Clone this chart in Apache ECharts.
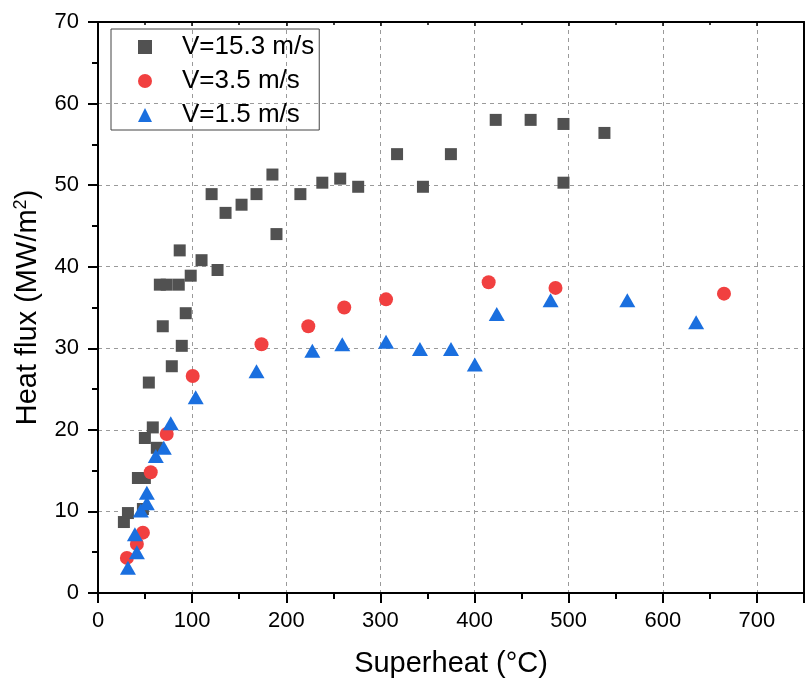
<!DOCTYPE html>
<html>
<head>
<meta charset="utf-8">
<script src="https://cdn.jsdelivr.net/npm/echarts@6/dist/echarts.min.js"></script>
<style>
html,body{margin:0;padding:0;background:#fff;}
#chart{width:807px;height:684px;}
</style>
</head>
<body>
<div id="chart"></div>
<script>
// Series values
const seriesNames = ['V=15.3 m/s', 'V=3.5 m/s', 'V=1.5 m/s'];

const v153X = [27.5, 31.8, 47.7, 42.4, 49.8, 49.8, 58.2, 62.5, 54, 78.4, 89, 68.8, 93.2, 65.7, 73, 85.8, 98.5, 86.8, 110, 127, 120.7, 135.5, 152.5, 168.4, 185.3, 189.6, 215, 238.3, 257.3, 276.4, 317.7, 345.2, 374.9, 422.5, 459.6, 494.5, 494.5, 538];
const v153Y = [8.7, 9.8, 10.3, 14.1, 14.1, 19.0, 20.3, 17.8, 25.8, 27.8, 30.3, 32.7, 34.3, 37.8, 37.8, 37.8, 38.9, 42.0, 40.8, 39.6, 48.9, 46.6, 47.6, 48.9, 51.3, 44.0, 48.9, 50.3, 50.8, 49.8, 53.8, 49.8, 53.8, 58.0, 58.0, 57.5, 50.3, 56.4];

const v35X = [30.7, 41.3, 47.7, 56, 73, 100.6, 173.7, 223.4, 261.6, 306, 415, 486, 665];
const v35Y = [4.3, 6.0, 7.4, 14.8, 19.5, 26.6, 30.5, 32.7, 35.0, 36.0, 38.1, 37.4, 36.7];

const v15X = [31.8, 41.3, 39.2, 45.5, 51.9, 51.9, 61.4, 69.9, 77.3, 103.8, 168.4, 227.7, 259.5, 306, 342, 375, 400.3, 423.6, 480.8, 562.3, 635.4];
const v15Y = [3.1, 5.0, 7.2, 10.1, 11.0, 12.3, 16.8, 17.8, 20.8, 24.0, 27.2, 29.7, 30.5, 30.8, 29.9, 29.9, 28.0, 34.2, 35.9, 35.9, 33.2];

const xTitle = 'Superheat (°C)';
const yTitle = 'Heat flux (MW/m{sup|2})';

function pairs(xs, ys) { return xs.map((x, i) => [x, ys[i]]); }

const FONT = 'Liberation Sans, Arial, Helvetica, sans-serif';
const chart = echarts.init(document.getElementById('chart'), null, {renderer: 'canvas'});

const gridLine = {show: true, lineStyle: {color: '#9a9a9a', type: [4, 4], width: 1}};

chart.setOption({
  animation: false,
  backgroundColor: '#fff',
  grid: {left: 98, right: 1, top: 22, bottom: 91, containLabel: false},
  legend: {
    orient: 'vertical',
    left: 111, top: 29,
    data: seriesNames,
    itemWidth: 14, itemHeight: 14,
    itemGap: 8,
    padding: [5, 5, 2, 27],
    borderColor: '#444', borderWidth: 1, borderRadius: 0,
    textStyle: {fontFamily: FONT, fontSize: 26, color: '#000', lineHeight: 26, padding: [0, 0, 0, 25]}
  },
  xAxis: [{
    type: 'value', min: 0, max: 750, interval: 100,
    name: xTitle, nameLocation: 'middle', nameGap: 56,
    nameTextStyle: {fontFamily: FONT, fontSize: 29, color: '#000'},
    axisLine: {show: true, onZero: false, lineStyle: {color: '#000', width: 2}},
    axisTick: {show: true, inside: false, length: 10, lineStyle: {color: '#000', width: 2}},
    minorTick: {show: true, splitNumber: 2, length: 6, lineStyle: {color: '#000', width: 2}},
    axisLabel: {fontFamily: FONT, fontSize: 22, color: '#000', margin: 17,
      formatter: v => (v > 700 ? '' : String(v))},
    splitLine: gridLine
  }, {
    type: 'value', position: 'top', min: 0, max: 750, interval: 100,
    axisLine: {show: true, onZero: false, lineStyle: {color: '#000', width: 2}},
    axisTick: {show: true, inside: true, length: 4, lineStyle: {color: '#000', width: 1.5}},
    minorTick: {show: true, splitNumber: 2, length: 3, lineStyle: {color: '#000', width: 1.5}},
    axisLabel: {show: false}, splitLine: {show: false}
  }],
  yAxis: [{
    type: 'value', min: 0, max: 70, interval: 10,
    name: yTitle, nameLocation: 'middle', nameGap: 52, nameRotate: 90,
    nameTextStyle: {fontFamily: FONT, fontSize: 29, color: '#000', lineHeight: 32,
      rich: {sup: {fontFamily: FONT, fontSize: 18, color: '#000', verticalAlign: 'top', lineHeight: 32, padding: [0, 0, 10, 0]}}},
    axisLine: {show: true, onZero: false, lineStyle: {color: '#000', width: 2}},
    axisTick: {show: true, inside: false, length: 10, lineStyle: {color: '#000', width: 2}},
    minorTick: {show: true, splitNumber: 2, length: 6, lineStyle: {color: '#000', width: 2}},
    axisLabel: {fontFamily: FONT, fontSize: 22, color: '#000', margin: 19},
    splitLine: gridLine
  }, {
    type: 'value', position: 'right', min: 0, max: 70, interval: 10,
    axisLine: {show: true, onZero: false, lineStyle: {color: '#000', width: 2}},
    axisTick: {show: false}, axisLabel: {show: false}, splitLine: {show: false}
  }],
  series: [{
    name: seriesNames[0], type: 'scatter', symbol: 'rect', symbolSize: 12,
    itemStyle: {color: '#515151', opacity: 1},
    data: pairs(v153X, v153Y), z: 3
  }, {
    name: seriesNames[1], type: 'scatter', symbol: 'circle', symbolSize: 14,
    itemStyle: {color: '#F14040', opacity: 1},
    data: pairs(v35X, v35Y), z: 4
  }, {
    name: seriesNames[2], type: 'scatter', symbol: 'triangle', symbolSize: [16, 14],
    itemStyle: {color: '#1A6FDF', opacity: 1},
    data: pairs(v15X, v15Y), z: 5
  }]
});
</script>
</body>
</html>
